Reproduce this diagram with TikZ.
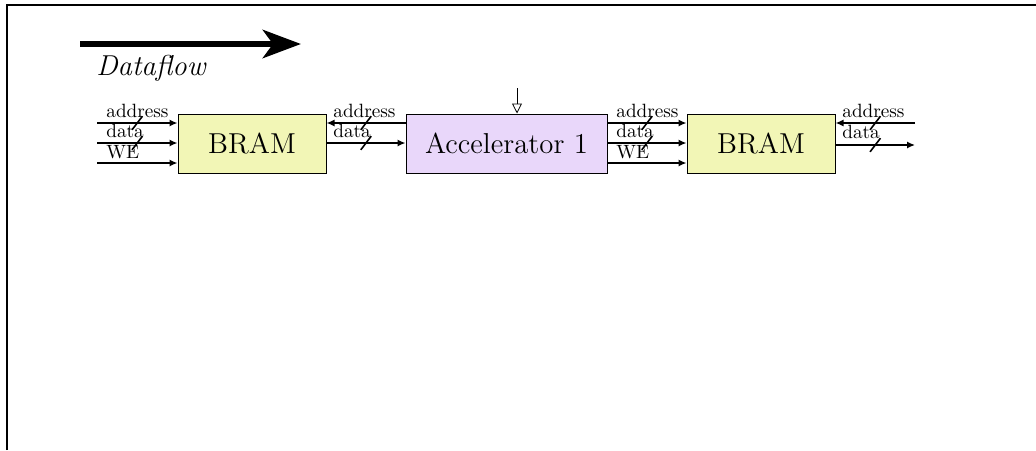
\documentclass[tikz,border=0pt]{standalone}
\usetikzlibrary{arrows.meta,decorations.markings}
\definecolor{bramfill}{RGB}{242,246,182}
\definecolor{accfill}{RGB}{233,215,250}
\begin{document}
\begin{tikzpicture}[x=0.5pt, y=-0.5pt]
    \tikzset{
      block/.style={draw=black, line width=0.5pt, minimum height=29.5pt, inner sep=0pt, font=\Large},
      bram/.style={block, fill=bramfill, minimum width=74pt},
      accel/.style={block, fill=accfill, minimum width=100.5pt},
      sig/.style={line width=0.8pt, -{Latex[length=4pt,width=3.6pt]}},
      bus/.style={sig, postaction={decorate}, decoration={markings,
        mark=at position 0.5 with {\draw[-, line width=0.8pt] (-2.6pt,-3.4pt) -- (2.6pt,3.4pt);}}},
      lbl/.style={font=\fontsize{9.6}{11}\selectfont, inner sep=0pt, anchor=base west},
    }
    \useasboundingbox (0,0) rectangle (1036,450);
    % ===== frame =====
    \draw[line width=1pt] (7,450) -- (7,5) -- (1036,5);
    % ===== dataflow =====
    \coordinate (df0) at (80,44);
    \coordinate (df1) at (301,44);
    \draw[line width=3.3pt, -{Stealth[length=19pt,width=14pt,inset=5pt]}] (df0) -- (df1);
    \node[font=\Large\itshape] (dflbl) at (151,68) {Dataflow};
    % ===== blocks =====
    \node[bram] (bram1) at (252,143.5) {BRAM};
    \node[accel] (acc) at (506.5,143.5) {Accelerator 1\hspace{5pt}};
    \node[bram] (bram2) at (761,143.5) {BRAM};
    % ===== left of BRAM =====
    \coordinate (a1) at (97,123);
    \coordinate (d1) at (97,143);
    \coordinate (w1) at (97,163);
    \draw[bus] (a1) -- (a1 -| bram1.west);
    \draw[bus] (d1) -- (d1 -| bram1.west);
    \draw[sig] (w1) -- (w1 -| bram1.west);
    \node[lbl] (la1) at (106,117) {address};
    \node[lbl] (ld1) at (106,137) {data};
    \node[lbl] (lw1) at (106,158) {WE};
    % ===== BRAM <-> accelerator =====
    \draw[bus] (acc.west |- a1) -- (bram1.east |- a1);
    \draw[bus] (bram1.east |- d1) -- (acc.west |- d1);
    \node[lbl] (la2) at (333,117) {address};
    \node[lbl] (ld2) at (333,137) {data};
    % ===== accelerator -> BRAM =====
    \draw[bus] (acc.east |- a1) -- (bram2.west |- a1);
    \draw[bus] (acc.east |- d1) -- (bram2.west |- d1);
    \draw[sig] (acc.east |- w1) -- (bram2.west |- w1);
    \node[lbl] (la3) at (616,117) {address};
    \node[lbl] (ld3) at (616,137) {data};
    \node[lbl] (lw3) at (616,158) {WE};
    % ===== right of BRAM =====
    \coordinate (a2) at (915,123);
    \coordinate (d2) at (915,145);
    \draw[bus] (a2) -- (a2 -| bram2.east);
    \draw[bus] (d2 -| bram2.east) -- (d2);
    \node[lbl] (la4) at (842,117) {address};
    \node[lbl] (ld4) at (842,138) {data};
    % ===== control =====
    \coordinate (ctl) at (517,88);
    \draw[line width=0.4pt, -{Triangle[open,length=5pt,width=5pt]}] (ctl) -- (ctl |- acc.north);
\end{tikzpicture}
\end{document}
